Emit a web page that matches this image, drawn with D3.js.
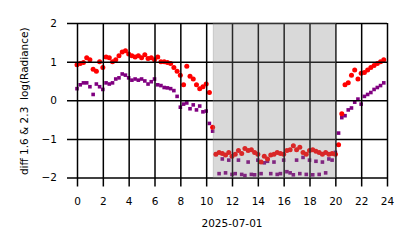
<!DOCTYPE html>
<html>
<head>
<meta charset="utf-8">
<script src="https://cdn.jsdelivr.net/npm/d3@7"></script>
<style>
  body { margin: 0; background: #fff; }
  text { font-family: "DejaVu Sans", sans-serif; }
</style>
</head>
<body>
<svg id="chart" width="414" height="248"></svg>
<script>
// 15 minute samples, hour 0 .. 23.75
var stepHours = 0.25;

var diff16 = [
  0.92, 0.95, 0.98, 1.10, 1.05, 0.80, 0.75, 1.00, 0.85, 1.12, 1.10, 1.00,
  1.05, 1.15, 1.25, 1.28, 1.20, 1.15, 1.12, 1.15, 1.10, 1.18, 1.08, 1.10,
  1.05, 1.12, 1.00, 1.00, 0.98, 0.95, 0.85, 0.75, 0.65, 0.40, 0.88, 0.62,
  0.55, 0.40, 0.30, 0.35, 0.42, 0.20, -0.70, -1.40, -1.35, -1.38, -1.42, -1.35,
  -1.45, -1.40, -1.30, -1.38, -1.25, -1.30, -1.28, -1.35, -1.40, -1.60, -1.45, -1.52,
  -1.42, -1.40, -1.35, -1.38, -1.40, -1.30, -1.28, -1.18, -1.28, -1.22, -1.35, -1.40,
  -1.30, -1.28, -1.32, -1.35, -1.40, -1.35, -1.40, -1.38, -1.40, -1.15, -0.35, 0.40,
  0.45, 0.65, 0.78, 0.55, 0.70, 0.72, 0.78, 0.85, 0.90, 0.95, 1.00, 1.05
];

var diff23 = [
  0.30, 0.40, 0.45, 0.45, 0.35, 0.15, 0.42, 0.35, 0.28, 0.45, 0.42, 0.45,
  0.55, 0.58, 0.68, 0.65, 0.58, 0.52, 0.55, 0.52, 0.55, 0.50, 0.42, 0.48,
  0.55, 0.40, 0.38, 0.33, 0.32, 0.30, 0.25, 0.10, -0.18, -0.10, -0.07, -0.22,
  -0.12, -0.25, -0.15, -0.30, -0.28, -0.60, -0.80, -1.40, -1.90, -1.52, -1.88, -1.55,
  -1.92, -1.90, -1.55, -1.92, -1.95, -1.60, -1.92, -1.93, -1.55, -1.90, -1.62, -1.58,
  -1.90, -1.60, -1.92, -1.90, -1.55, -1.85, -1.88, -1.93, -1.55, -1.90, -1.48, -1.92,
  -1.55, -1.93, -1.58, -1.92, -1.60, -1.88, -1.52, -1.55, -1.35, -0.85, -0.45, -0.40,
  -0.25, -0.20, -0.05, 0.03, -0.10, 0.10, 0.15, 0.20, 0.28, 0.33, 0.38, 0.45
];

var shadeSpan = [10.55, 20.02];
var xTicks = [0, 2, 4, 6, 8, 10, 12, 14, 16, 18, 20, 22, 24];
var yTicks = [-2, -1, 0, 1, 2];
var dateLabel = "2025-07-01";
var yLabel = "diff 1.6 & 2.3  log(Radiance)";

var svg = d3.select("#chart");
var plotLeft = 77, plotRight = 387, plotTop = 23, plotBottom = 177.5;

var x = d3.scaleLinear().domain([0, 24]).range([plotLeft, plotRight]);
var y = d3.scaleLinear().domain([-2, 2]).range([plotBottom, plotTop]);

function hourOf(i) { return i * stepHours; }

// points
svg.append("g").selectAll("rect")
  .data(diff23)
  .join("rect")
  .attr("x", function(d, i) { return x(hourOf(i)) - 1.8; })
  .attr("y", function(d) { return y(d) - 1.8; })
  .attr("width", 3.6)
  .attr("height", 3.6)
  .attr("fill", "#800080");

svg.append("g").selectAll("circle")
  .data(diff16)
  .join("circle")
  .attr("cx", function(d, i) { return x(hourOf(i)); })
  .attr("cy", function(d) { return y(d); })
  .attr("r", 2.5)
  .attr("fill", "#ff0000");

// grid + ticks
var xAxis = svg.append("g")
  .attr("transform", "translate(0," + plotTop + ")")
  .call(d3.axisBottom(x).tickValues(xTicks).tickSize(plotBottom - plotTop + 9).tickPadding(11)
    .tickFormat(d3.format("d")));

var yAxis = svg.append("g")
  .attr("transform", "translate(" + plotRight + ",0)")
  .call(d3.axisLeft(y).tickValues(yTicks).tickSize(plotRight - plotLeft + 10).tickPadding(10)
    .tickFormat(d3.format("d")));

[xAxis, yAxis].forEach(function(ax) {
  ax.select(".domain").remove();
  ax.selectAll(".tick line").attr("stroke", "#000").attr("stroke-width", 1.5);
  ax.selectAll(".tick text").attr("fill", "#000").style("font-size", "10.5px")
    .style("font-family", "'DejaVu Sans', sans-serif");
});

// shaded span on top
svg.append("rect")
  .attr("x", x(shadeSpan[0]))
  .attr("y", plotTop)
  .attr("width", x(shadeSpan[1]) - x(shadeSpan[0]))
  .attr("height", plotBottom - plotTop)
  .attr("fill", "#808080")
  .attr("fill-opacity", 0.3)
  .attr("stroke", "#808080")
  .attr("stroke-opacity", 0.3)
  .attr("stroke-width", 1);

svg.append("text")
  .attr("x", (plotLeft + plotRight) / 2)
  .attr("y", 227)
  .attr("text-anchor", "middle")
  .style("font-size", "10.5px")
  .text(dateLabel);

svg.append("text")
  .attr("transform", "translate(28," + ((plotTop + plotBottom) / 2 + 1) + ") rotate(-90)")
  .attr("text-anchor", "middle")
  .style("font-size", "10.5px")
  .style("white-space", "pre")
  .text(yLabel);
</script>
</body>
</html>
